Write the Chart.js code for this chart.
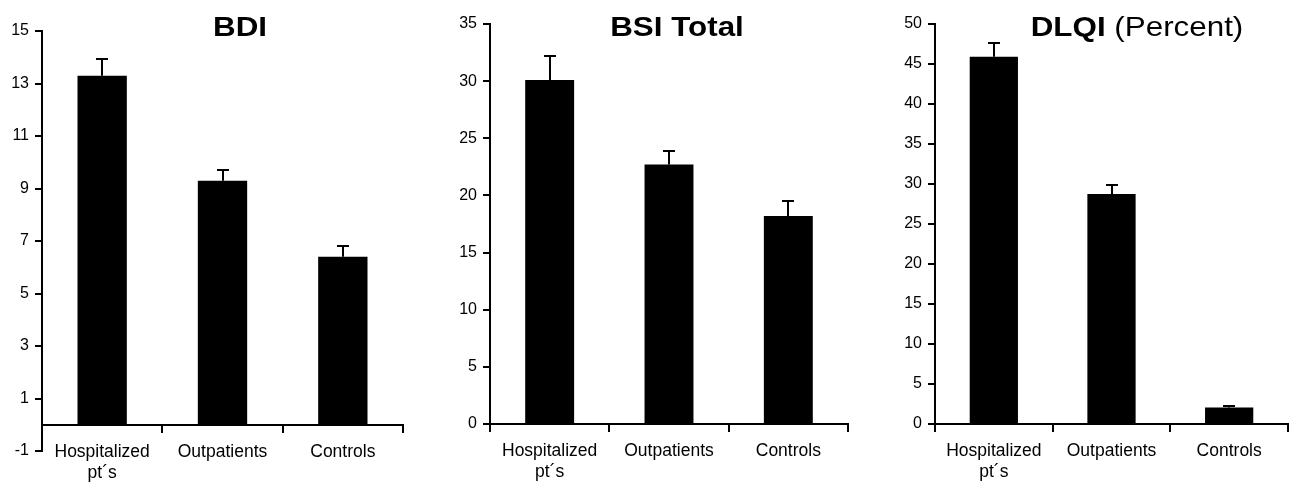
<!DOCTYPE html>
<html>
<head>
<meta charset="utf-8">
<script src="https://cdn.jsdelivr.net/npm/chart.js@4/dist/chart.umd.min.js"></script>
<style>
  html, body { margin: 0; padding: 0; background: #fff; }
  body { width: 1294px; height: 482px; position: relative; overflow: hidden; }
  .panel { position: absolute; top: 0; height: 482px; }
  .panel canvas { display: block; }
</style>
</head>
<body>
<div class="panel" id="p1" style="left:0;width:420px"><canvas id="c1" width="420" height="482"></canvas></div>
<div class="panel" id="p2" style="left:420px;width:440px"><canvas id="c2" width="440" height="482"></canvas></div>
<div class="panel" id="p3" style="left:860px;width:434px"><canvas id="c3" width="434" height="482"></canvas></div>
<script>
// ---- data ----
const categories = [['Hospitalized', 'pt\u00b4s'], 'Outpatients', 'Controls'];

const bdiMeans = [13.3, 9.3, 6.4];
const bdiErrors = [0.65, 0.42, 0.42];
const bdiTicks = { min: -1, max: 15, step: 2 };

const bsiMeans = [30.1, 22.7, 18.2];
const bsiErrors = [2.1, 1.2, 1.3];
const bsiTicks = { min: 0, max: 35, step: 5 };

const dlqiMeans = [45.9, 28.75, 2.05];
const dlqiErrors = [1.7, 1.15, 0.25];
const dlqiTicks = { min: 0, max: 50, step: 5 };

const bdiTitle = [{ text: 'BDI', bold: true }];
const bsiTitle = [{ text: 'BSI Total', bold: true }];
const dlqiTitle = [{ text: 'DLQI', bold: true }, { text: ' (Percent)', bold: false }];

// ---- plugins ----
const errorBarPlugin = {
  id: 'errorBars',
  afterDatasetsDraw(chart, args, opts) {
    const errs = opts.errors;
    if (!errs) return;
    const ctx = chart.ctx;
    const yScale = chart.scales.y;
    const meta = chart.getDatasetMeta(0);
    const vals = chart.data.datasets[0].data;
    ctx.save();
    ctx.strokeStyle = '#000';
    ctx.lineWidth = 2;
    meta.data.forEach((bar, i) => {
      const x = Math.round(bar.x);
      const y0 = yScale.getPixelForValue(vals[i]);
      const y1 = Math.round(yScale.getPixelForValue(vals[i] + errs[i]));
      ctx.beginPath();
      ctx.moveTo(x, y0);
      ctx.lineTo(x, y1);
      ctx.moveTo(x - opts.capHalf, y1);
      ctx.lineTo(x + opts.capHalf, y1);
      ctx.stroke();
    });
    ctx.restore();
  }
};

const panelTitlePlugin = {
  id: 'panelTitle',
  afterDraw(chart, args, opts) {
    const parts = opts.parts;
    if (!parts) return;
    const ctx = chart.ctx;
    ctx.save();
    ctx.fillStyle = '#000';
    ctx.textBaseline = 'alphabetic';
    const setFont = p => { ctx.font = (p.bold ? 'bold ' : '') + opts.size + 'px ' + opts.family; };
    let total = 0;
    parts.forEach(p => { setFont(p); total += ctx.measureText(p.text).width; });
    ctx.translate(opts.cx - total * opts.stretch / 2, opts.baseline);
    ctx.scale(opts.stretch, 1);
    let x = 0;
    parts.forEach(p => {
      setFont(p);
      ctx.fillText(p.text, x, 0);
      x += ctx.measureText(p.text).width;
    });
    ctx.restore();
  }
};

const FONT = "'Liberation Sans', Arial, Helvetica, sans-serif";

function makePanel(canvasId, means, errors, tk, title, geo) {
  return new Chart(document.getElementById(canvasId), {
    type: 'bar',
    data: {
      labels: categories,
      datasets: [{
        data: means,
        backgroundColor: '#000',
        borderWidth: 0,
        barPercentage: 0.41,
        categoryPercentage: 1.0
      }]
    },
    plugins: [errorBarPlugin, panelTitlePlugin],
    options: {
      responsive: false,
      animation: false,
      events: [],
      layout: { padding: { top: geo.top, right: geo.right, left: 0, bottom: geo.bottom } },
      plugins: {
        legend: { display: false },
        tooltip: { enabled: false },
        title: { display: false },
        errorBars: { errors: errors, capHalf: 6 },
        panelTitle: { parts: title, cx: geo.titleX, baseline: geo.titleBase, size: 28, stretch: 1.12, family: FONT }
      },
      scales: {
        x: {
          position: { y: 0 },
          offset: true,
          grid: { display: true, offset: true, drawOnChartArea: false, drawTicks: true, tickLength: 7, color: '#000', lineWidth: 2 },
          border: { display: true, color: '#000', width: 2 },
          ticks: { color: '#000', font: { family: FONT, size: 17.5, lineHeight: 1.2 }, padding: 10, maxRotation: 0, autoSkip: false }
        },
        y: {
          min: tk.min,
          max: tk.max,
          grid: { display: true, drawOnChartArea: false, drawTicks: true, tickLength: 7, color: '#000', lineWidth: 2 },
          border: { display: true, color: '#000', width: 2 },
          ticks: { stepSize: tk.step, color: '#000', font: { family: FONT, size: 16 }, padding: 6 },
          afterFit: s => { s.width = geo.yw; }
        }
      }
    }
  });
}

makePanel('c1', bdiMeans, bdiErrors, bdiTicks, bdiTitle,
  { top: 31, right: 17, bottom: 31, yw: 42, titleX: 240, titleBase: 36 });
makePanel('c2', bsiMeans, bsiErrors, bsiTicks, bsiTitle,
  { top: 24, right: 12, bottom: 58, yw: 70, titleX: 257, titleBase: 36 });
makePanel('c3', dlqiMeans, dlqiErrors, dlqiTicks, dlqiTitle,
  { top: 24, right: 6, bottom: 58, yw: 75, titleX: 277, titleBase: 36 });
</script>
</body>
</html>
